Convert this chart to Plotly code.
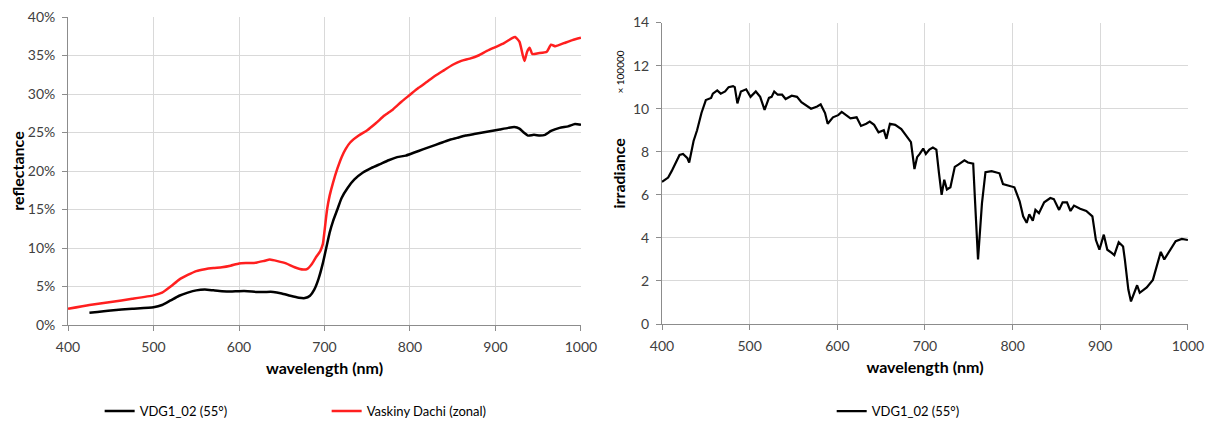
import plotly.graph_objects as go

# --- Reflectance data (left panel), percent ---
wl_vdg = [425, 450, 475, 500, 510, 520, 530, 540, 550, 560, 570, 580, 590, 600, 610, 620, 630, 640, 650, 660,
          670, 677, 683, 688, 693, 698, 702, 706, 710, 715, 720, 727, 735, 745, 755, 765, 775, 785, 795, 805,
          815, 825, 835, 845, 855, 865, 875, 885, 895, 905, 915, 922, 928, 933, 938, 945, 952, 958, 965, 975,
          985, 993, 1000]
refl_vdg = [1.6, 1.9, 2.1, 2.3, 2.6, 3.2, 3.8, 4.2, 4.5, 4.6, 4.5, 4.4, 4.35, 4.4, 4.4, 4.3, 4.3, 4.3, 4.1, 3.8,
            3.55, 3.5, 3.8, 4.6, 6.0, 8.0, 10.0, 12.0, 13.5, 15.0, 16.5, 17.8, 18.9, 19.8, 20.4, 20.9, 21.4, 21.8, 22.0, 22.4,
            22.8, 23.2, 23.6, 24.0, 24.3, 24.6, 24.8, 25.0, 25.2, 25.4, 25.6, 25.7, 25.5, 25.0, 24.6, 24.7, 24.6, 24.7, 25.2, 25.6,
            25.8, 26.1, 26.0]

wl_vd = [400, 425, 450, 475, 500, 510, 520, 530, 540, 550, 560, 570, 580, 590, 600, 610, 620, 630, 636, 645,
         655, 665, 675, 680, 685, 690, 695, 698, 700, 703, 706, 710, 715, 720, 725, 730, 740, 750, 760, 770,
         780, 790, 800, 810, 820, 830, 840, 850, 860, 870, 880, 890, 900, 910, 920, 923, 928, 932, 934, 937,
         940, 943, 950, 960, 965, 970, 980, 990, 1000]
refl_vd = [2.1, 2.6, 3.0, 3.4, 3.85, 4.2, 5.0, 5.9, 6.5, 7.0, 7.25, 7.4, 7.5, 7.7, 8.0, 8.05, 8.1, 8.35, 8.5, 8.3,
           8.0, 7.5, 7.2, 7.3, 7.9, 8.8, 9.6, 10.5, 12.2, 15.0, 16.8, 18.5, 20.3, 21.8, 22.9, 23.7, 24.6, 25.3, 26.2, 27.2,
           28.0, 29.0, 29.9, 30.8, 31.6, 32.4, 33.1, 33.8, 34.3, 34.6, 35.0, 35.6, 36.1, 36.6, 37.3, 37.4, 36.8, 35.0, 34.3, 35.5,
           36.0, 35.2, 35.3, 35.5, 36.4, 36.2, 36.6, 37.0, 37.3]

# --- Irradiance data (right panel), units of 100000 ---
wl_irr = [400, 407, 411, 416, 420, 424, 429, 431, 436, 440, 445, 450, 456, 458, 463, 467, 472, 476, 481, 483,
          486, 490, 496, 501, 507, 512, 517, 522, 525, 528, 532, 537, 541, 548, 554, 559, 565, 570, 577, 581,
          586, 589, 595, 601, 605, 610, 615, 622, 627, 633, 637, 642, 647, 653, 656, 660, 666, 673, 680, 684,
          688, 691, 694, 698, 701, 705, 709, 713, 716, 719, 722, 725, 729, 734, 738, 745, 749, 755, 757, 760.5,
          765, 769, 776, 785, 789, 796, 802, 808, 812, 816, 819, 823, 826, 830, 836, 843, 847, 853, 857, 862,
          866, 870, 877, 884, 891, 895, 899, 904, 908, 913, 916, 921, 926, 928, 932, 935, 938, 942, 945, 953,
          960, 964, 969, 973, 980, 986, 993, 1000]
irr = [6.6, 6.8, 7.1, 7.5, 7.85, 7.9, 7.7, 7.5, 8.5, 9.0, 9.8, 10.4, 10.5, 10.7, 10.85, 10.7, 10.8, 11.0, 11.05, 11.0,
       10.25, 10.8, 10.9, 10.55, 10.8, 10.55, 9.95, 10.5, 10.55, 10.8, 10.65, 10.65, 10.45, 10.6, 10.55, 10.3, 10.15, 10.0, 10.1, 10.2,
       9.8, 9.3, 9.6, 9.7, 9.85, 9.7, 9.55, 9.6, 9.2, 9.3, 9.4, 9.25, 8.9, 9.0, 8.6, 9.3, 9.25, 9.05, 8.7, 8.45,
       7.2, 7.75, 7.9, 8.15, 7.9, 8.1, 8.2, 8.1, 7.0, 6.0, 6.7, 6.25, 6.35, 7.3, 7.4, 7.6, 7.5, 7.45, 5.8, 3.0,
       5.6, 7.05, 7.1, 7.0, 6.5, 6.4, 6.35, 5.7, 5.0, 4.7, 5.1, 4.8, 5.3, 5.15, 5.65, 5.85, 5.8, 5.3, 5.65, 5.65,
       5.25, 5.5, 5.35, 5.25, 5.0, 3.9, 3.45, 4.15, 3.45, 3.3, 3.2, 3.8, 3.6, 3.0, 1.6, 1.05, 1.35, 1.8, 1.45, 1.7,
       2.05, 2.6, 3.35, 3.0, 3.45, 3.85, 3.95, 3.9]

x_ticks = [400, 500, 600, 700, 800, 900, 1000]
refl_ticks = [0, 5, 10, 15, 20, 25, 30, 35, 40]
refl_tick_labels = ["0%", "5%", "10%", "15%", "20%", "25%", "30%", "35%", "40%"]
irr_ticks = [0, 2, 4, 6, 8, 10, 12, 14]
FONT = "Lato"
GRID = "#d9d9d9"
AXIS = "#8c8c8c"

fig = go.Figure()
fig.add_trace(go.Scatter(x=wl_vdg, y=refl_vdg, mode="lines", name="VDG1_02 (55°)",
                         line=dict(color="#000000", width=2.5, shape="spline", smoothing=0.5),
                         xaxis="x", yaxis="y", legend="legend"))
fig.add_trace(go.Scatter(x=wl_vd, y=refl_vd, mode="lines", name="Vaskiny Dachi (zonal)",
                         line=dict(color="#ff1f1f", width=2.5, shape="spline", smoothing=0.5),
                         xaxis="x", yaxis="y", legend="legend"))
fig.add_trace(go.Scatter(x=wl_irr, y=irr, mode="lines", name="VDG1_02 (55°)",
                         line=dict(color="#000000", width=2.2),
                         xaxis="x2", yaxis="y2", legend="legend2"))

tickfont = dict(family=FONT, size=14, color="#404040")
titlefont = dict(family=FONT, size=16, color="#000000", weight="bold")

common_x = dict(range=[400, 1000], tickvals=x_ticks, showgrid=True, gridcolor=GRID, gridwidth=1,
                showline=True, linecolor=AXIS, linewidth=1, ticks="outside", ticklen=5, tickcolor=AXIS,
                tickfont=tickfont, zeroline=False, automargin=False, ticklabelstandoff=4,
                ticklabeloverflow="allow",
                title=dict(text="wavelength (nm)", font=titlefont, standoff=8))

# page body has an 8px margin, so the figure is 8px smaller than the window
fig.update_layout(
    width=1206, height=419, autosize=False,
    margin=dict(l=0, r=0, t=0, b=0),
    paper_bgcolor="white", plot_bgcolor="white",
    showlegend=True,
    xaxis=dict(domain=[0.0498, 0.4751], anchor="y", **common_x),
    yaxis=dict(domain=[0.2434, 0.9785], anchor="x", range=[0, 40], tickmode="array",
               tickvals=refl_ticks, ticktext=refl_tick_labels, ticklabeloverflow="allow",
               showgrid=True, gridcolor=GRID, showline=True, linecolor=AXIS, ticks="outside", ticklen=5,
               tickcolor=AXIS, tickfont=tickfont, zeroline=False, automargin=False, ticklabelstandoff=4,
               title=dict(text="reflectance", font=titlefont, standoff=6)),
    xaxis2=dict(domain=[0.5423, 0.9784], anchor="y2", **common_x),
    yaxis2=dict(domain=[0.2458, 0.9652], anchor="x2", range=[0, 14], tickmode="array", tickvals=irr_ticks,
                ticklabeloverflow="allow",
                showgrid=True, gridcolor=GRID, showline=True, linecolor=AXIS, ticks="outside", ticklen=5,
                tickcolor=AXIS, tickfont=tickfont, zeroline=False, automargin=False, ticklabelstandoff=4,
                title=dict(text="irradiance", font=titlefont, standoff=3)),
    legend=dict(orientation="h", x=0.076, y=0.038, xanchor="left", yanchor="middle",
                font=dict(family=FONT, size=13, color="#000000"), itemwidth=30, entrywidth=182,
                bgcolor="rgba(0,0,0,0)"),
    legend2=dict(orientation="h", x=0.683, y=0.038, xanchor="left", yanchor="middle",
                 font=dict(family=FONT, size=13, color="#000000"), itemwidth=30,
                 bgcolor="rgba(0,0,0,0)"),
    annotations=[dict(text="× 100000", xref="paper", yref="paper", x=0.5075, y=0.902, showarrow=False,
                      textangle=-90, font=dict(family=FONT, size=10, color="#000000"))],
)

fig.write_html("out.html")
